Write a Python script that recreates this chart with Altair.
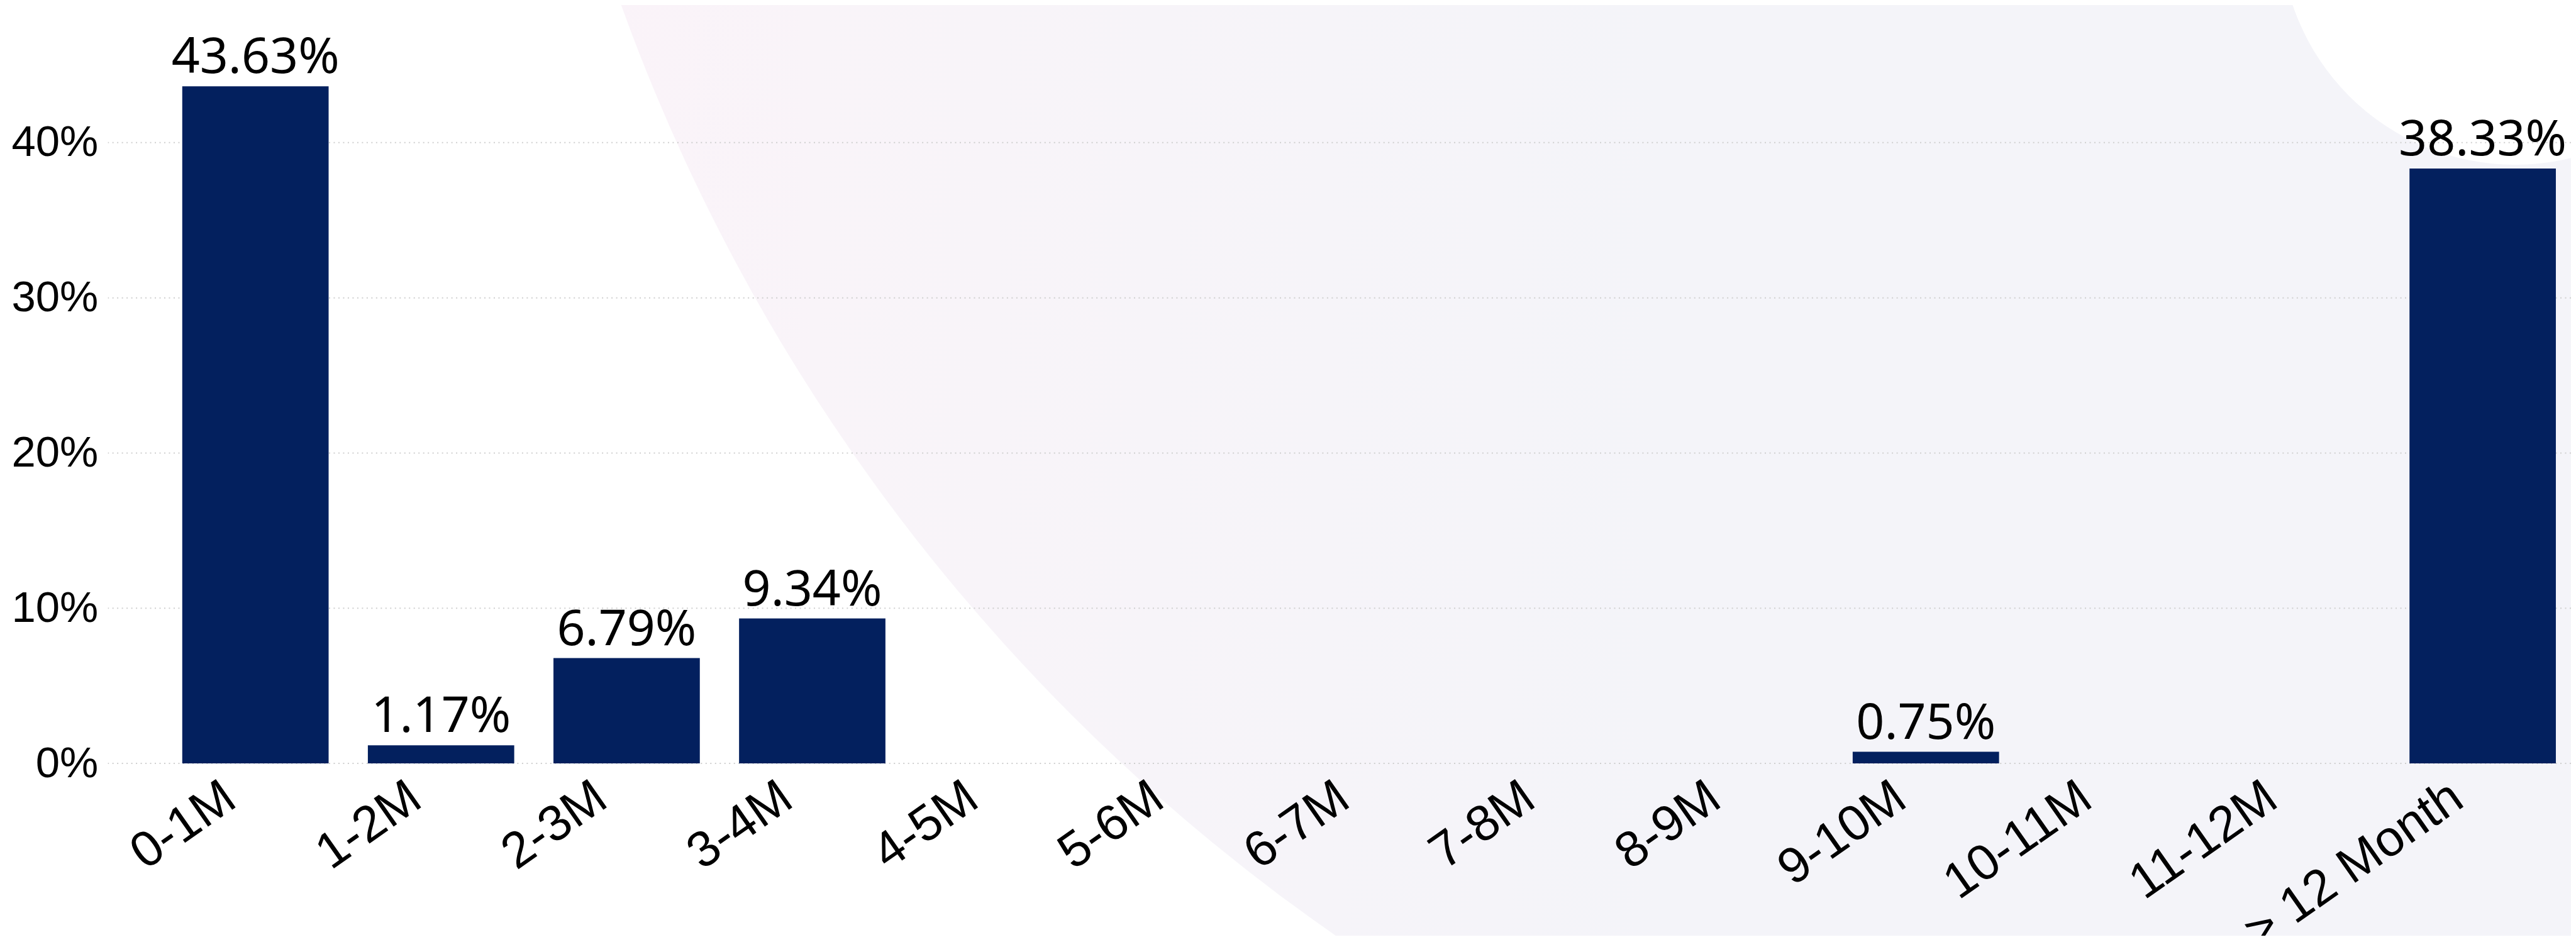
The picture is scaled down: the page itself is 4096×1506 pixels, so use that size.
import altair as alt
import pandas as pd

# ---- data ----
categories = ["0-1M", "1-2M", "2-3M", "3-4M", "4-5M", "5-6M", "6-7M",
              "7-8M", "8-9M", "9-10M", "10-11M", "11-12M", "> 12 Month"]
shares = [0.4363, 0.0117, 0.0679, 0.0934, 0.0, 0.0, 0.0,
          0.0, 0.0, 0.0075, 0.0, 0.0, 0.3833]
y_ticks = [0.0, 0.1, 0.2, 0.3, 0.4]

df = pd.DataFrame({"bucket": categories, "share": shares})
grid_df = pd.DataFrame({"tick": y_ticks})
deco_df = pd.DataFrame({"k": [0]})

# ---- layout (output pixels) ----
W, H = 3924, 1187
PAD = {"left": 164, "top": 20, "right": 0, "bottom": 273}

BAR_COLOR = "#03205e"

x_scale = alt.Scale(domain=categories, paddingInner=0.2114,
                    paddingOuter=0.2408, align=0.831, round=False)
y_scale = alt.Scale(domain=[0, 0.48], nice=False, zero=True)

x_axis = alt.Axis(title=None, labelAngle=-35, labelAlign="right",
                  labelBaseline="middle", labelOffset=-40, labelPadding=46,
                  labelFont="Liberation Sans", labelFontSize=80,
                  labelColor="#000000", labelLimit=2000, labelOverlap=False,
                  ticks=False, tickSize=0, domain=False, grid=False, zindex=1)
y_axis = alt.Axis(title=None, values=y_ticks, format=".0%",
                  labelFont="Liberation Sans", labelFontSize=69,
                  labelColor="#000000", labelPadding=16, labelLimit=2000,
                  ticks=False, tickSize=0, domain=False, grid=False, zindex=1)

# ---- decorative background shapes ----
lavender = alt.LinearGradient(
    gradient="linear",
    stops=[alt.GradientStop(offset=0.0, color="#fbf3f9"),
           alt.GradientStop(offset=0.08, color="#f9f4f9"),
           alt.GradientStop(offset=0.3, color="#f4f4f9"),
           alt.GradientStop(offset=1.0, color="#f4f4f9")],
    x1=0, x2=1, y1=0, y2=0)

blob = alt.Chart(deco_df).mark_arc(
    theta=0, theta2=6.2832, radius=3072, fill=lavender, stroke=None
).encode(x=alt.value(3708), y=alt.value(-1062))

white_blob = alt.Chart(deco_df).mark_arc(
    theta=0, theta2=6.2832, radius=374, fill="#ffffff", stroke=None
).encode(x=alt.value(3835), y=alt.value(-141))

# ---- gridlines ----
grid = alt.Chart(grid_df).mark_rule(
    color="#cfcfcf", strokeWidth=2, strokeDash=[2, 5.5]
).encode(y=alt.Y("tick:Q", scale=y_scale, axis=y_axis))

# ---- bars and labels ----
bars = alt.Chart(df).mark_bar(color=BAR_COLOR).encode(
    x=alt.X("bucket:N", sort=categories, scale=x_scale, axis=x_axis),
    y=alt.Y("share:Q", scale=y_scale, axis=y_axis),
)

labels = alt.Chart(df).transform_filter("datum.share > 0").mark_text(
    font="Noto Sans", fontSize=79, dy=-21, baseline="alphabetic",
    align="center", color="#000000"
).encode(
    x=alt.X("bucket:N", sort=categories, scale=x_scale, axis=x_axis),
    y=alt.Y("share:Q", scale=y_scale, axis=y_axis),
    text=alt.Text("share:Q", format=".2%"),
)

chart = alt.layer(blob, white_blob, grid, bars, labels).properties(
    width=W, height=H, padding=PAD,
    autosize=alt.AutoSizeParams(type="none"),
    background="#ffffff",
).configure_view(stroke=None)

chart.save("out.html", embed_options={"renderer": "svg", "actions": False})
